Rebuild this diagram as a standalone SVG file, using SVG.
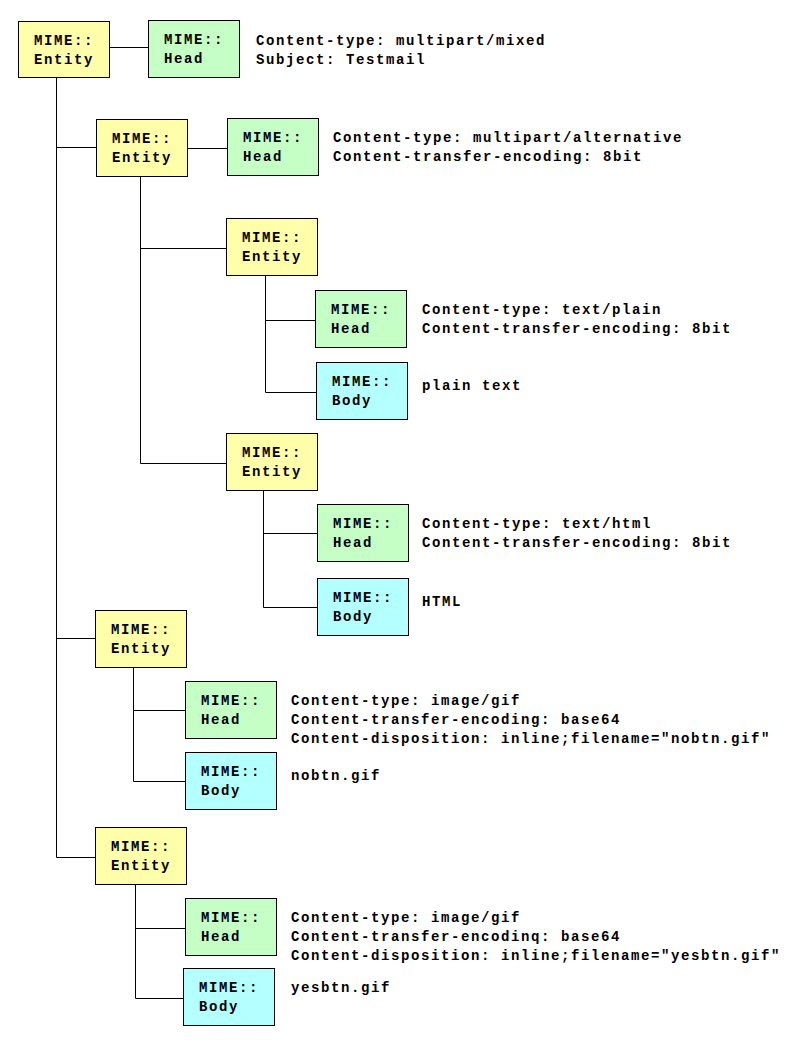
<svg xmlns="http://www.w3.org/2000/svg" width="808" height="1053" viewBox="0 0 808 1053">
<style>
.e,.h,.b{stroke:#000;stroke-width:1}
.e{fill:#ffffaa}
.h{fill:#c6ffc6}
.b{fill:#b4ffff}
text{font-family:"Liberation Mono","Courier New",monospace;font-weight:bold;font-size:14px;letter-spacing:1.6px;fill:#000}
#connectors path{fill:none;stroke:#000;stroke-width:1}
</style>
<rect x="0" y="0" width="808" height="1053" style="fill:#fff;stroke:none"/>
<g id="connectors">
<path d="M109.5,47.5H148.5"/>
<path d="M56.5,77.5V857.5H95.5M56.5,147.5H96.5M56.5,638.5H95.5"/>
<path d="M187.5,148.5H227.5"/>
<path d="M140.5,176.5V463.5H226.5M140.5,248.5H226.5"/>
<path d="M265.5,275.5V392.5H316.5M265.5,320.5H315.5"/>
<path d="M263.5,490.5V607.5H317.5M263.5,533.5H317.5"/>
<path d="M133.5,667.5V781.5H185.5M133.5,710.5H185.5"/>
<path d="M135.5,884.5V998.5H183.5M135.5,928.5H185.5"/>
</g>
<g id="entity1"><rect class="e" x="18.5" y="21.5" width="91" height="56"/><text x="34" y="45">MIME::</text><text x="34" y="64">Entity</text></g>
<g id="head1"><rect class="h" x="148.5" y="20.5" width="91" height="57"/><text x="164" y="44">MIME::</text><text x="164" y="63">Head</text>
<text x="256" y="45">Content-type: multipart/mixed</text><text x="256" y="64">Subject: Testmail</text></g>
<g id="entity2"><rect class="e" x="96.5" y="119.5" width="91" height="57"/><text x="112" y="143">MIME::</text><text x="112" y="162">Entity</text></g>
<g id="head2"><rect class="h" x="227.5" y="118.5" width="91" height="57"/><text x="243" y="142">MIME::</text><text x="243" y="161">Head</text>
<text x="333" y="142">Content-type: multipart/alternative</text><text x="333" y="161">Content-transfer-encoding: 8bit</text></g>
<g id="entity3"><rect class="e" x="226.5" y="218.5" width="91" height="57"/><text x="242" y="242">MIME::</text><text x="242" y="261">Entity</text></g>
<g id="head3"><rect class="h" x="315.5" y="290.5" width="91" height="57"/><text x="331" y="314">MIME::</text><text x="331" y="333">Head</text>
<text x="422" y="314">Content-type: text/plain</text><text x="422" y="333">Content-transfer-encoding: 8bit</text></g>
<g id="body3"><rect class="b" x="316.5" y="362.5" width="91" height="57"/><text x="332" y="386">MIME::</text><text x="332" y="405">Body</text>
<text x="422" y="390">plain text</text></g>
<g id="entity4"><rect class="e" x="226.5" y="433.5" width="91" height="57"/><text x="242" y="457">MIME::</text><text x="242" y="476">Entity</text></g>
<g id="head4"><rect class="h" x="317.5" y="504.5" width="91" height="57"/><text x="333" y="528">MIME::</text><text x="333" y="547">Head</text>
<text x="422" y="528">Content-type: text/html</text><text x="422" y="547">Content-transfer-encoding: 8bit</text></g>
<g id="body4"><rect class="b" x="317.5" y="578.5" width="91" height="57"/><text x="333" y="602">MIME::</text><text x="333" y="621">Body</text>
<text x="422" y="606">HTML</text></g>
<g id="entity5"><rect class="e" x="95.5" y="610.5" width="91" height="57"/><text x="111" y="634">MIME::</text><text x="111" y="653">Entity</text></g>
<g id="head5"><rect class="h" x="185.5" y="681.5" width="91" height="57"/><text x="201" y="705">MIME::</text><text x="201" y="724">Head</text>
<text x="291" y="705">Content-type: image/gif</text><text x="291" y="724">Content-transfer-encoding: base64</text><text x="291" y="743">Content-disposition: inline;filename="nobtn.gif"</text></g>
<g id="body5"><rect class="b" x="185.5" y="752.5" width="91" height="57"/><text x="201" y="776">MIME::</text><text x="201" y="795">Body</text>
<text x="291" y="780">nobtn.gif</text></g>
<g id="entity6"><rect class="e" x="95.5" y="827.5" width="91" height="57"/><text x="111" y="851">MIME::</text><text x="111" y="870">Entity</text></g>
<g id="head6"><rect class="h" x="185.5" y="898.5" width="91" height="57"/><text x="201" y="922">MIME::</text><text x="201" y="941">Head</text>
<text x="291" y="922">Content-type: image/gif</text><text x="291" y="941">Content-transfer-encodinq: base64</text><text x="291" y="960">Content-disposition: inline;filename="yesbtn.gif"</text></g>
<g id="body6"><rect class="b" x="183.5" y="968.5" width="91" height="57"/><text x="199" y="992">MIME::</text><text x="199" y="1011">Body</text>
<text x="291" y="992">yesbtn.gif</text></g>
</svg>
